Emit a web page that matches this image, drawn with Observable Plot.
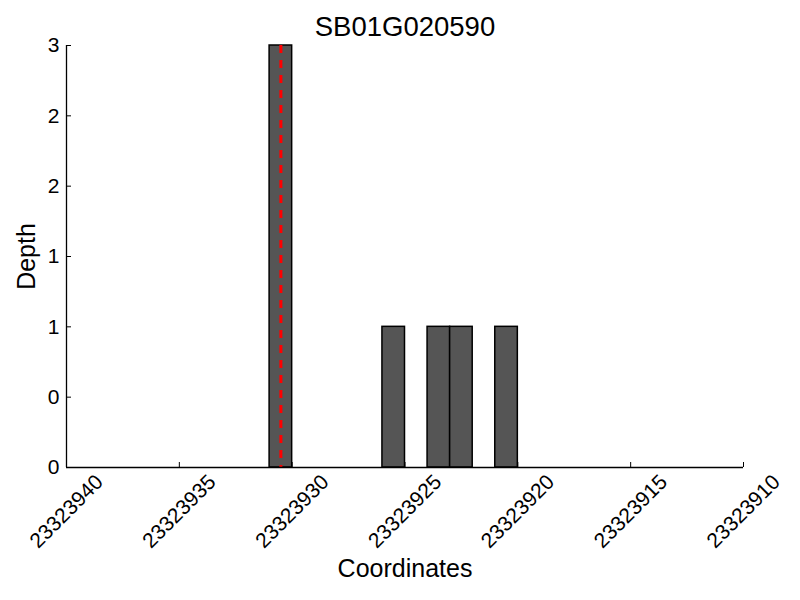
<!DOCTYPE html>
<html>
<head>
<meta charset="utf-8">
<script src="https://cdn.jsdelivr.net/npm/d3@7"></script>
<script src="https://cdn.jsdelivr.net/npm/@observablehq/plot@0.6"></script>
<style>
  html, body { margin: 0; padding: 0; background: #fff; }
</style>
</head>
<body>
<div id="chart"></div>
<script>
const title = "SB01G020590";
const xLabel = "Coordinates";
const yLabel = "Depth";
const binStart = [23323930, 23323925, 23323923, 23323922, 23323920];
const binEnd = [23323931, 23323926, 23323924, 23323923, 23323921];
const depth = [3, 1, 1, 1, 1];
const markerPos = [23323930.5];
const xDomain = [23323940, 23323910];
const yDomain = [0, 3];
const xTicks = [23323940, 23323935, 23323930, 23323925, 23323920, 23323915, 23323910];
const yTicks = [0, 0.5, 1, 1.5, 2, 2.5, 3];

const bars = binStart.map((s, i) => ({x1: s, x2: binEnd[i], depth: depth[i]}));

const plot = Plot.plot({
  width: 800,
  height: 600,
  marginLeft: 66,
  marginRight: 57,
  marginTop: 45,
  marginBottom: 133,
  style: {fontFamily: "'Liberation Sans', Arial, sans-serif", background: "#fff", color: "#000"},
  x: {domain: xDomain, type: "linear"},
  y: {domain: yDomain},
  marks: [
    Plot.rectY(bars, {x1: "x1", x2: "x2", y1: 0, y2: "depth", fill: "#555555", stroke: "#000", strokeWidth: 1.5}),
    Plot.ruleX(markerPos, {stroke: "#ff0000", strokeWidth: 3, strokeDasharray: "8,7"}),
    Plot.ruleY([yDomain[0]], {stroke: "#000", strokeWidth: 1.3}),
    Plot.ruleX([xDomain[0]], {stroke: "#000", strokeWidth: 1.3}),
    Plot.axisX({ticks: xTicks, tickSize: -5, tickFormat: () => "", label: null}),
    Plot.text(xTicks, {x: d => d, text: d => d3.format("d")(d), frameAnchor: "bottom", dy: 44, rotate: -45, textAnchor: "middle", lineAnchor: "middle", fontSize: 21}),
    Plot.axisY({ticks: yTicks, tickSize: -5, tickPadding: 12, tickFormat: d => String(Math.floor(d)), fontSize: 21, label: null}),
    Plot.text([title], {frameAnchor: "top", dy: -18, textAnchor: "middle", lineAnchor: "middle", fontSize: 27.5}),
    Plot.text([xLabel], {frameAnchor: "bottom", dy: 101, textAnchor: "middle", lineAnchor: "middle", fontSize: 25}),
    Plot.text([yLabel], {frameAnchor: "left", dx: -40, rotate: -90, textAnchor: "middle", lineAnchor: "middle", fontSize: 25})
  ]
});
document.getElementById("chart").appendChild(plot);
</script>
</body>
</html>
